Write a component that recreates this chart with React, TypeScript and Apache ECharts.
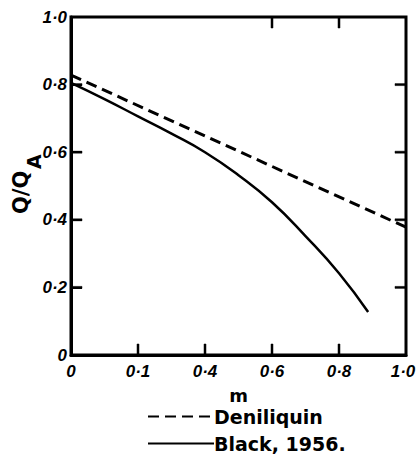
import React, { useEffect, useRef } from "react";
import * as echarts from "echarts";

const xTickLabels = ["0", "0·1", "0·4", "0·6", "0·8", "1·0"];
const yTickLabels = ["0", "0·2", "0·4", "0·6", "0·8", "1·0"];
const bottomTicks = [0.2, 0.4, 0.6, 0.8];
const topTicks = [0.6, 0.8];
const leftTicks = [0.2, 0.4, 0.6, 0.8];
const rightTicks = [0.2, 0.4, 0.6, 0.8];
const seriesNames = ["Deniliquin", "Black, 1956."];
const deniliquinX = [0, 1.0];
const deniliquinY = [0.828, 0.378];
const blackX = [0, 0.1, 0.2, 0.3, 0.4, 0.5, 0.6, 0.7, 0.8, 0.887];
const blackY = [0.805, 0.757, 0.706, 0.655, 0.6, 0.532, 0.452, 0.352, 0.242, 0.127];

const tickFont = {
  fontFamily: "Liberation Sans",
  fontStyle: "italic" as const,
  fontWeight: "bold" as const,
  fontSize: 17,
  color: "#000",
};

const W = 416;
const H = 469;
const G_LEFT = 71;
const G_RIGHT = 10;
const G_TOP = 17;
const G_BOTTOM = 114;
const TICK_LEN = 11;
const TICK_W = 2;

export default function App() {
  const ref = useRef<HTMLDivElement>(null);
  useEffect(() => {
    if (!ref.current) return;
    const chart = echarts.init(ref.current, null, { renderer: "svg" });
    const plotW = W - G_LEFT - G_RIGHT;
    const plotH = H - G_TOP - G_BOTTOM;
    const toX = (v: number) => G_LEFT + v * plotW;
    const toY = (v: number) => G_TOP + (1 - v) * plotH;
    const fill = { fill: "#000", stroke: "#000", lineWidth: 0.5 };
    const ticks: any[] = [];
    bottomTicks.forEach((v, i) =>
      ticks.push({ type: "rect", id: "tb" + i, z: 100, shape: { x: toX(v) - TICK_W / 2, y: toY(0) - TICK_LEN, width: TICK_W, height: TICK_LEN }, style: fill })
    );
    topTicks.forEach((v, i) =>
      ticks.push({ type: "rect", id: "tt" + i, z: 100, shape: { x: toX(v) - TICK_W / 2, y: toY(1), width: TICK_W, height: TICK_LEN }, style: fill })
    );
    leftTicks.forEach((v, i) =>
      ticks.push({ type: "rect", id: "tl" + i, z: 100, shape: { x: toX(0), y: toY(v) - TICK_W / 2, width: TICK_LEN, height: TICK_W }, style: fill })
    );
    rightTicks.forEach((v, i) =>
      ticks.push({ type: "rect", id: "tr" + i, z: 100, shape: { x: toX(1) - TICK_LEN, y: toY(v) - TICK_W / 2, width: TICK_LEN, height: TICK_W }, style: fill })
    );

    chart.setOption({
      animation: false,
      backgroundColor: "#fff",
      grid: {
        left: G_LEFT,
        right: G_RIGHT,
        top: G_TOP,
        bottom: G_BOTTOM,
        show: true,
        borderColor: "#000",
        borderWidth: 3,
        backgroundColor: "transparent",
        containLabel: false,
        outerBoundsMode: "none",
      },
      xAxis: {
        type: "value",
        min: 0,
        max: 1,
        interval: 0.2,
        position: "bottom",
        axisLine: { show: true, onZero: false, lineStyle: { color: "#000", width: 3 } },
        axisTick: { show: true, inside: true, length: TICK_LEN, lineStyle: { color: "#000", width: TICK_W } },
        splitLine: { show: false },
        axisLabel: {
          ...tickFont,
          margin: 8,
          formatter: (v: number) => {
            const i = Math.round(v / 0.2);
            const t = xTickLabels[i] ?? "";
            return i === xTickLabels.length - 1 ? "{last|" + t + "}" : t;
          },
          rich: { last: { ...tickFont, padding: [0, 6, 0, 0] } },
        },
        name: "m",
        nameLocation: "middle",
        nameGap: 31,
        nameTextStyle: { fontFamily: "DejaVu Sans", fontSize: 18, color: "#000", fontWeight: "bold" },
      },
      yAxis: {
        type: "value",
        min: 0,
        max: 1,
        interval: 0.2,
        position: "left",
        axisLine: { show: true, onZero: false, lineStyle: { color: "#000", width: 3 } },
        axisTick: { show: true, inside: true, length: TICK_LEN, lineStyle: { color: "#000", width: TICK_W } },
        splitLine: { show: false },
        axisLabel: {
          ...tickFont,
          margin: 4,
          formatter: (v: number) => yTickLabels[Math.round(v / 0.2)] ?? "",
        },
      },
      legend: {
        orient: "vertical",
        left: 142,
        top: 402,
        itemWidth: 66,
        itemHeight: 14,
        itemGap: 8,
        data: seriesNames,
        itemStyle: { color: "transparent", borderWidth: 0, opacity: 0 },
        textStyle: { fontFamily: "DejaVu Sans", fontWeight: "bold", fontSize: 19, color: "#000", padding: [0, 0, 0, -5] },
      },
      graphic: [
        ...ticks,
        {
          type: "group",
          id: "ylabel",
          x: 21,
          y: 214,
          rotation: Math.PI / 2,
          children: [
            {
              type: "text",
              x: 0,
              y: 0,
              style: {
                text: "Q/Q",
                fontFamily: "DejaVu Sans",
                fontWeight: "bold",
                fontSize: 21,
                fill: "#000",
                align: "left",
                verticalAlign: "middle",
              },
            },
            {
              type: "text",
              x: 45,
              y: 13,
              style: {
                text: "A",
                fontFamily: "DejaVu Sans",
                fontWeight: "bold",
                fontSize: 19,
                fill: "#000",
                align: "left",
                verticalAlign: "middle",
              },
            },
          ],
        },
      ],
      series: [
        {
          name: seriesNames[0],
          type: "line",
          symbol: "none",
          itemStyle: { color: "#000" },
          lineStyle: { color: "#000", width: 3, type: [11, 6] },
          data: deniliquinX.map((x, i) => [x, deniliquinY[i]]),
        },
        {
          name: seriesNames[1],
          type: "line",
          symbol: "none",
          smooth: true,
          itemStyle: { color: "#000" },
          lineStyle: { color: "#000", width: 2.5 },
          data: blackX.map((x, i) => [x, blackY[i]]),
        },
      ],
    });
    return () => chart.dispose();
  }, []);
  return (
    <div
      ref={ref}
      style={{ position: "fixed", left: 0, top: 0, width: W, height: H, background: "#fff" }}
    />
  );
}
